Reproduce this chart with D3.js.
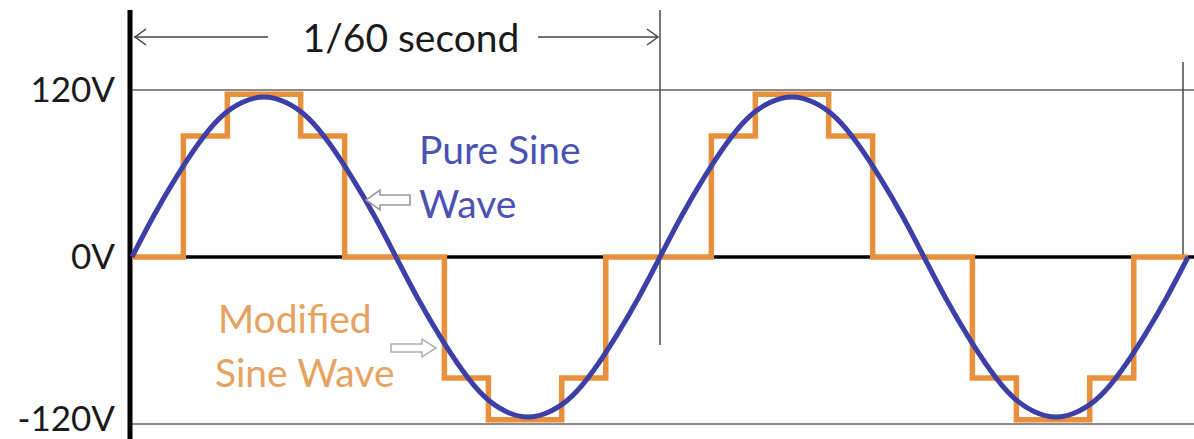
<!DOCTYPE html>
<html><head><meta charset="utf-8">
<script src="https://cdn.jsdelivr.net/npm/d3@7"></script>
<style>html,body{margin:0;padding:0;background:#fff;}svg{display:block;font-family:Lato,"Open Sans",sans-serif;}</style>
</head><body>
<svg id="c" width="1194" height="439"></svg>
<script>
// phase in degrees (0-720 = two cycles of 1/60 second each)
const sinePhase = [0,15,30,45,60,75,90,105,120,135,150,165,180,195,210,225,240,255,270,285,300,315,330,345,360,
  375,390,405,420,435,450,465,480,495,510,525,540,555,570,585,600,615,630,645,660,675,690,705,720];
const sineVolts = [0,30,57,81,100,111,115,111,100,81,57,30,0,-30,-57,-81,-100,-111,-115,-111,-100,-81,-57,-30,0,
  30,57,81,100,111,115,111,100,81,57,30,0,-30,-57,-81,-100,-111,-115,-111,-100,-81,-57,-30,0];
const stepPhase = [0,35,65,115,145,213,243,293,323,395,425,475,505,573,603,653,683,720];
const stepVolts = [0,87,117,87,0,-87,-117,-87,0,87,117,87,0,-87,-117,-87,0,0];
const yTicks = [120,0,-120];
const periodLabel = "1/60 second";
const pureLabel = ["Pure Sine","Wave"];
const modLabel = ["Modified","Sine Wave"];

const svg = d3.select("#c");
const x = d3.scaleLinear().domain([0,720]).range([132,1188]);
const y = d3.scaleLinear().domain([-120,120]).range([424,90]);

// grid lines at +-120
svg.selectAll("line.grid").data([120,-120]).enter().append("line")
  .attr("x1",130).attr("x2",1194).attr("y1",d=>y(d)).attr("y2",d=>y(d))
  .attr("stroke","#8a8a8a").attr("stroke-width",2);
// zero line
svg.append("line").attr("x1",130).attr("x2",1194).attr("y1",y(0)).attr("y2",y(0))
  .attr("stroke","#000").attr("stroke-width",3.5);
// period marker lines
svg.append("line").attr("x1",x(360)).attr("x2",x(360)).attr("y1",10).attr("y2",345)
  .attr("stroke","#555").attr("stroke-width",1.6);
svg.append("line").attr("x1",1183).attr("x2",1183).attr("y1",62).attr("y2",y(0))
  .attr("stroke","#555").attr("stroke-width",1.6);

// axis labels
const ax = svg.append("g").attr("transform","translate(130,0)")
  .call(d3.axisLeft(y).tickValues(yTicks).tickSize(0).tickPadding(15).tickFormat(d=>d+"V"));
ax.select(".domain").remove();
ax.selectAll("text").attr("font-size",35).attr("fill","#1a1a1a").attr("font-family","Lato,'Open Sans',sans-serif")
  .attr("dy",d=>d<0?"0.18em":"0.32em");

// left axis line
svg.append("line").attr("x1",130).attr("x2",130).attr("y1",10).attr("y2",439)
  .attr("stroke","#000").attr("stroke-width",5);

// step wave
const stepData = stepPhase.map((p,i)=>[p,stepVolts[i]]);
svg.append("path").datum(stepData)
  .attr("d",d3.line().x(d=>x(d[0])).y(d=>y(d[1])).curve(d3.curveStepAfter))
  .attr("fill","none").attr("stroke","#e8903c").attr("stroke-width",5.5);

// sine wave
const sineData = sinePhase.map((p,i)=>[p,sineVolts[i]]);
svg.append("path").datum(sineData)
  .attr("d",d3.line().x(d=>x(d[0])).y(d=>y(d[1])).curve(d3.curveNatural))
  .attr("fill","none").attr("stroke","#3b3fa6").attr("stroke-width",5);

// period dimension arrows
const ay = 37;
svg.append("line").attr("x1",134).attr("x2",268).attr("y1",ay).attr("y2",ay).attr("stroke","#444").attr("stroke-width",1.5);
svg.append("path").attr("d",`M146,${ay-8}L135,${ay}L146,${ay+8}`).attr("fill","none").attr("stroke","#444").attr("stroke-width",1.5);
svg.append("line").attr("x1",538).attr("x2",x(360)-2).attr("y1",ay).attr("y2",ay).attr("stroke","#444").attr("stroke-width",1.5);
svg.append("path").attr("d",`M${x(360)-13},${ay-8}L${x(360)-2},${ay}L${x(360)-13},${ay+8}`).attr("fill","none").attr("stroke","#444").attr("stroke-width",1.5);
svg.append("text").attr("x",411).attr("y",52).attr("text-anchor","middle")
  .attr("font-size",39).attr("fill","#1a1a1a").text(periodLabel);

// labels
svg.append("g").selectAll("text").data(pureLabel).enter().append("text")
  .attr("x",419).attr("y",(d,i)=>164+i*54).attr("font-size",39).attr("fill","#4a52b4").text(d=>d);
svg.append("g").selectAll("text").data(modLabel).enter().append("text")
  .attr("x",(d,i)=>218-i*3).attr("y",(d,i)=>333+i*54).attr("font-size",39).attr("fill","#e6a260").text(d=>d);

// hollow block arrows
svg.append("path").attr("d","M366,200L380,190L380,195L410,195L410,205L380,205L380,210Z")
  .attr("fill","#fff").attr("stroke","#9a9a9a").attr("stroke-width",1.6);
svg.append("path").attr("d","M436,348L422,339L422,344L391,344L391,352L422,352L422,357Z")
  .attr("fill","#fff").attr("stroke","#b0b0b0").attr("stroke-width",1.5);
</script>
</body></html>
